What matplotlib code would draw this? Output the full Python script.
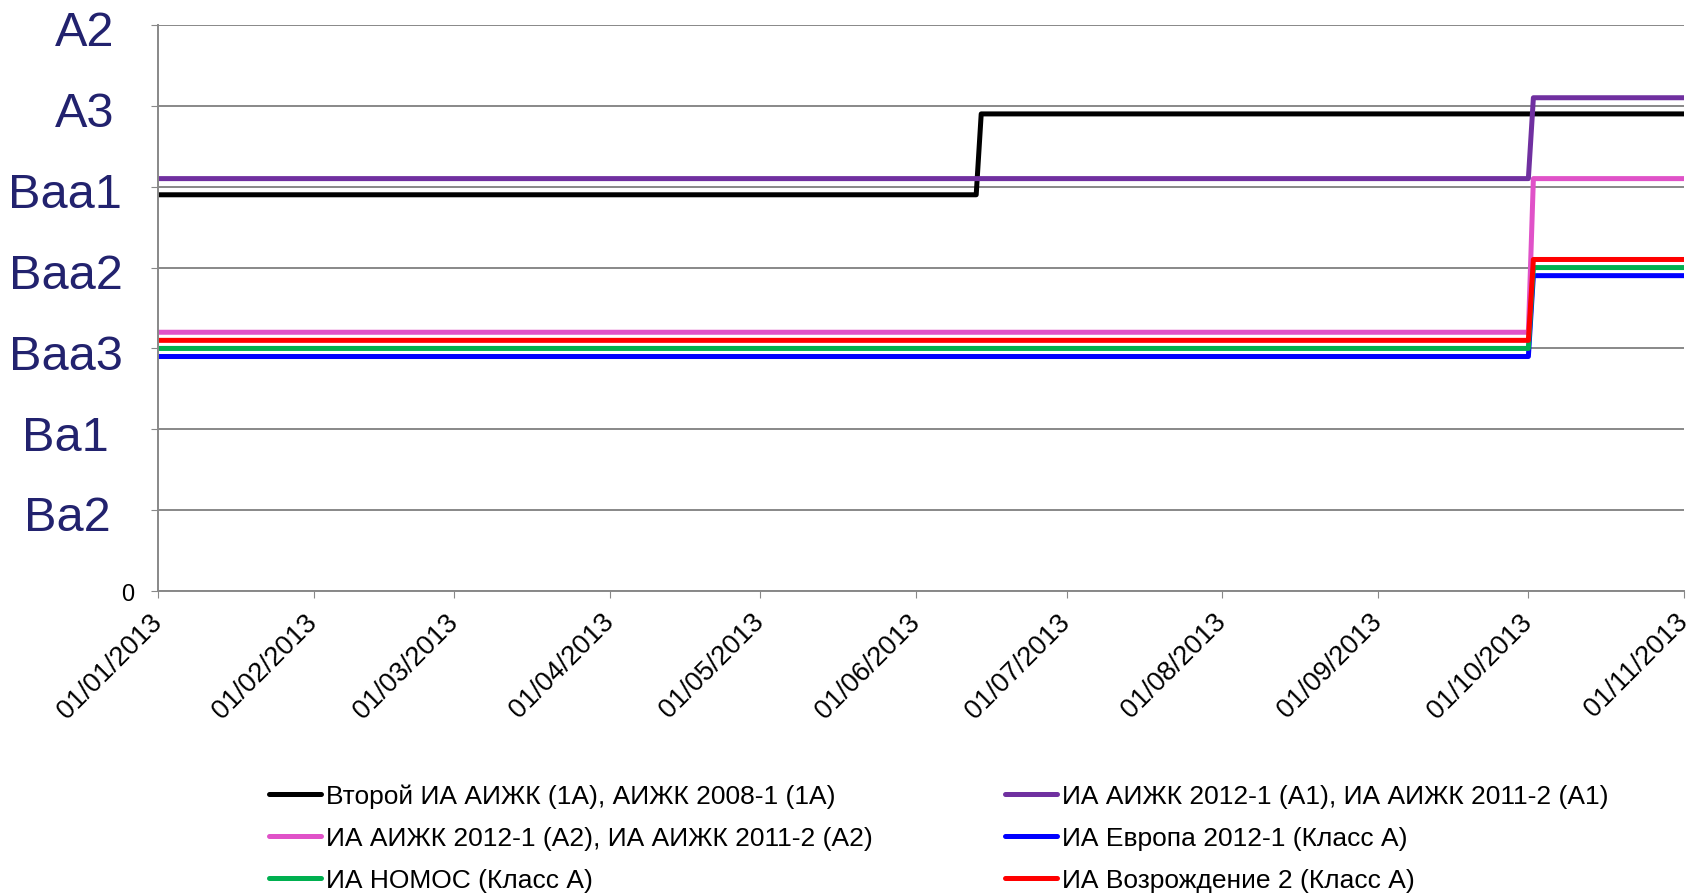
import matplotlib
matplotlib.use("Agg")
import matplotlib.pyplot as plt
import matplotlib.dates as mdates
import matplotlib.transforms as mtransforms
import pandas as pd

plt.rcParams['font.family'] = ['Liberation Sans', 'DejaVu Sans']

# Шкала рейтингов (0 внизу, далее Ba2 ... A2)
rating_ticks = [0, 1, 2, 3, 4, 5, 6, 7]
rating_labels = ["0", "Ba2", "Ba1", "Baa3", "Baa2", "Baa1", "A3", "A2"]

# Даты изменений рейтингов
dates_black = ["2013-01-01", "2013-06-13", "2013-06-14", "2013-11-01"]
dates_oct = ["2013-01-01", "2013-10-01", "2013-10-02", "2013-11-01"]

# Значения (небольшие сдвиги, чтобы линии не сливались)
black = [4.9, 4.9, 5.9, 5.9]
purple = [5.1, 5.1, 6.1, 6.1]
pink = [3.2, 3.2, 5.1, 5.1]
blue = [2.9, 2.9, 3.9, 3.9]
green = [3.0, 3.0, 4.0, 4.0]
red = [3.1, 3.1, 4.1, 4.1]

names = [
    "Второй ИА АИЖК (1А), АИЖК 2008-1 (1А)",
    "ИА АИЖК 2012-1 (А1), ИА АИЖК 2011-2 (А1)",
    "ИА АИЖК 2012-1 (А2), ИА АИЖК 2011-2 (А2)",
    "ИА Европа 2012-1 (Класс А)",
    "ИА НОМОС (Класс А)",
    "ИА Возрождение 2 (Класс А)",
]
series = [
    (dates_black, black, "black"),
    (dates_oct, purple, "#7030A0"),
    (dates_oct, pink, "#E052C8"),
    (dates_oct, blue, "#0000FF"),
    (dates_oct, green, "#00B050"),
    (dates_oct, red, "#FF0000"),
]

fig = plt.figure(figsize=(16.95, 8.95), dpi=100)
ax = fig.add_axes([0.0932, 0.3385, 0.9003, 0.6325])

lines = []
for (d, v, c), name in zip(series, names):
    ln, = ax.plot(pd.to_datetime(d), v, color=c, lw=3.6, label=name,
                  solid_capstyle='round', solid_joinstyle='round')
    lines.append(ln)

ax.set_xlim(pd.Timestamp("2013-01-01"), pd.Timestamp("2013-11-01"))
ax.set_ylim(0, 7)

ax.xaxis.set_major_locator(mdates.MonthLocator())
ax.xaxis.set_major_formatter(mdates.DateFormatter("%d/%m/%Y"))
ax.tick_params(axis='y', pad=12, length=5, color='#888888')
ax.tick_params(axis='x', pad=14, length=5, color='#888888')
for lab in ax.get_xticklabels():
    lab.set_rotation(45)
    lab.set_ha('right')
    lab.set_va('center')
    lab.set_rotation_mode('anchor')
    lab.set_fontsize(19.5)

ax.set_yticks(rating_ticks)
ax.set_yticklabels(rating_labels)
ytl = ax.get_yticklabels()
# сдвиг подписей рейтингов влево (в пунктах)
shifts = [0, -48, -50, -49, -49, -50, -36, -36]
for lab, dx in zip(ytl[1:], shifts[1:]):
    lab.set_fontsize(35)
    lab.set_color('#22226E')
    lab.set_ha('center')
    lab.set_transform(lab.get_transform() +
                      mtransforms.ScaledTranslation(dx / 72, -2 / 72, fig.dpi_scale_trans))
ytl[0].set_fontsize(17)

ax.grid(axis='y', color='#888888', lw=1.4)
ax.set_axisbelow(True)
for s in ['top', 'right']:
    ax.spines[s].set_visible(False)
for s in ['left', 'bottom']:
    ax.spines[s].set_color('#888888')
    ax.spines[s].set_linewidth(1.4)

# порядок легенды: по строкам в две колонки
order = [0, 2, 4, 1, 3, 5]
fig.legend([lines[i] for i in order], [names[i] for i in order],
           loc='center left', bbox_to_anchor=(0.1587, 0.0626), ncol=2,
           frameon=False, borderpad=0, borderaxespad=0, fontsize=19,
           handlelength=1.97, handletextpad=0.19,
           columnspacing=5.0, labelspacing=0.68)

fig.savefig("out.png", dpi=100)
